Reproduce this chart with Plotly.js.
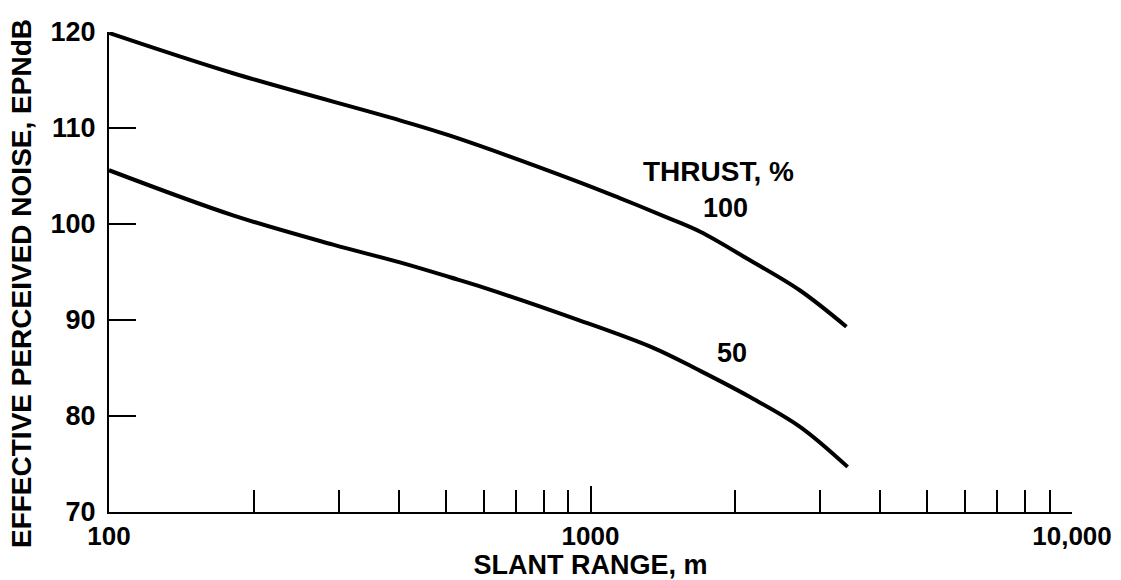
<!DOCTYPE html>
<html>
<head>
<meta charset="utf-8">
<script src="https://cdn.plot.ly/plotly-3.0.1.min.js"></script>
<style>html,body{margin:0;padding:0;background:#fff;}#chart{width:1121px;height:580px;}</style>
</head>
<body>
<div id="chart"></div>
<script>
// Slant range, m
const range100 = [100, 181, 402, 511, 920, 1150, 1440, 1690, 2140, 2720, 3400];
// Effective perceived noise, EPNdB at 100% thrust
const noise100 = [119.9, 115.7, 110.8, 109.2, 104.6, 102.7, 100.7, 99.2, 96.25, 93.1, 89.3];
const range50 = [100, 181, 292, 402, 511, 598, 920, 1350, 1690, 2140, 2720, 3420];
// Effective perceived noise, EPNdB at 50% thrust
const noise50 = [105.6, 100.9, 97.85, 96.0, 94.45, 93.4, 90.2, 87.1, 84.7, 82.0, 78.9, 74.7];

const xMajorVals = [100, 1000, 10000];
const xMajorText = ['100', '1000', '10,000'];
const xMinorVals = [200, 300, 400, 500, 600, 700, 800, 900, 2000, 3000, 4000, 5000, 6000, 7000, 8000, 9000];
const yTickVals = [70, 80, 90, 100, 110, 120];

const FONT = 'Liberation Sans, Arial, Helvetica, sans-serif';

const traces = [
  {x: range100, y: noise100, mode: 'lines', name: '100',
   line: {color: '#000', width: 4, shape: 'spline', smoothing: 1}},
  {x: range50, y: noise50, mode: 'lines', name: '50',
   line: {color: '#000', width: 4, shape: 'spline', smoothing: 1}}
];

const layout = {
  width: 1121, height: 580,
  margin: {l: 109, r: 49, t: 32, b: 68},
  paper_bgcolor: '#fff', plot_bgcolor: '#fff',
  showlegend: false,
  font: {family: FONT, color: '#000', size: 27, weight: 'bold'},
  xaxis: {
    type: 'log', range: [2, 4],
    showgrid: false, zeroline: false,
    showline: true, linecolor: '#000', linewidth: 2,
    tickmode: 'array', tickvals: xMajorVals, ticktext: xMajorText,
    ticks: 'inside', ticklen: 26, tickwidth: 2, tickcolor: '#000',
    tickfont: {family: FONT, size: 26, color: '#000', weight: 'bold'},
    minor: {tickmode: 'array', tickvals: xMinorVals, ticks: 'inside', ticklen: 22, tickwidth: 2, tickcolor: '#000', showgrid: false},
    title: {text: 'SLANT RANGE, m', font: {family: FONT, size: 27, color: '#000', weight: 'bold'}, standoff: 4},
    automargin: false
  },
  yaxis: {
    range: [70, 120],
    showgrid: false, zeroline: false,
    showline: true, linecolor: '#000', linewidth: 2,
    tickmode: 'array', tickvals: yTickVals,
    ticks: 'inside', ticklen: 27, tickwidth: 2, tickcolor: '#000',
    ticklabelstandoff: 6,
    tickfont: {family: FONT, size: 27, color: '#000', weight: 'bold'},
    automargin: false
  },
  annotations: [
    {xref: 'paper', yref: 'paper', x: -0.0914, y: 0.477, text: 'EFFECTIVE PERCEIVED NOISE, EPNdB', showarrow: false,
     textangle: -90, font: {family: FONT, size: 28, color: '#000', weight: 'bold'}, xanchor: 'center', yanchor: 'middle'},
    {xref: 'paper', yref: 'paper', x: 0.633, y: 0.710, text: 'THRUST, %', showarrow: false,
     font: {family: FONT, size: 28, color: '#000', weight: 'bold'}, xanchor: 'center', yanchor: 'middle'},
    {xref: 'paper', yref: 'paper', x: 0.640, y: 0.633, text: '100', showarrow: false,
     font: {family: FONT, size: 27, color: '#000', weight: 'bold'}, xanchor: 'center', yanchor: 'middle'},
    {xref: 'paper', yref: 'paper', x: 0.647, y: 0.331, text: '50', showarrow: false,
     font: {family: FONT, size: 27, color: '#000', weight: 'bold'}, xanchor: 'center', yanchor: 'middle'}
  ]
};

Plotly.newPlot('chart', traces, layout, {displayModeBar: false, staticPlot: true});
</script>
</body>
</html>
